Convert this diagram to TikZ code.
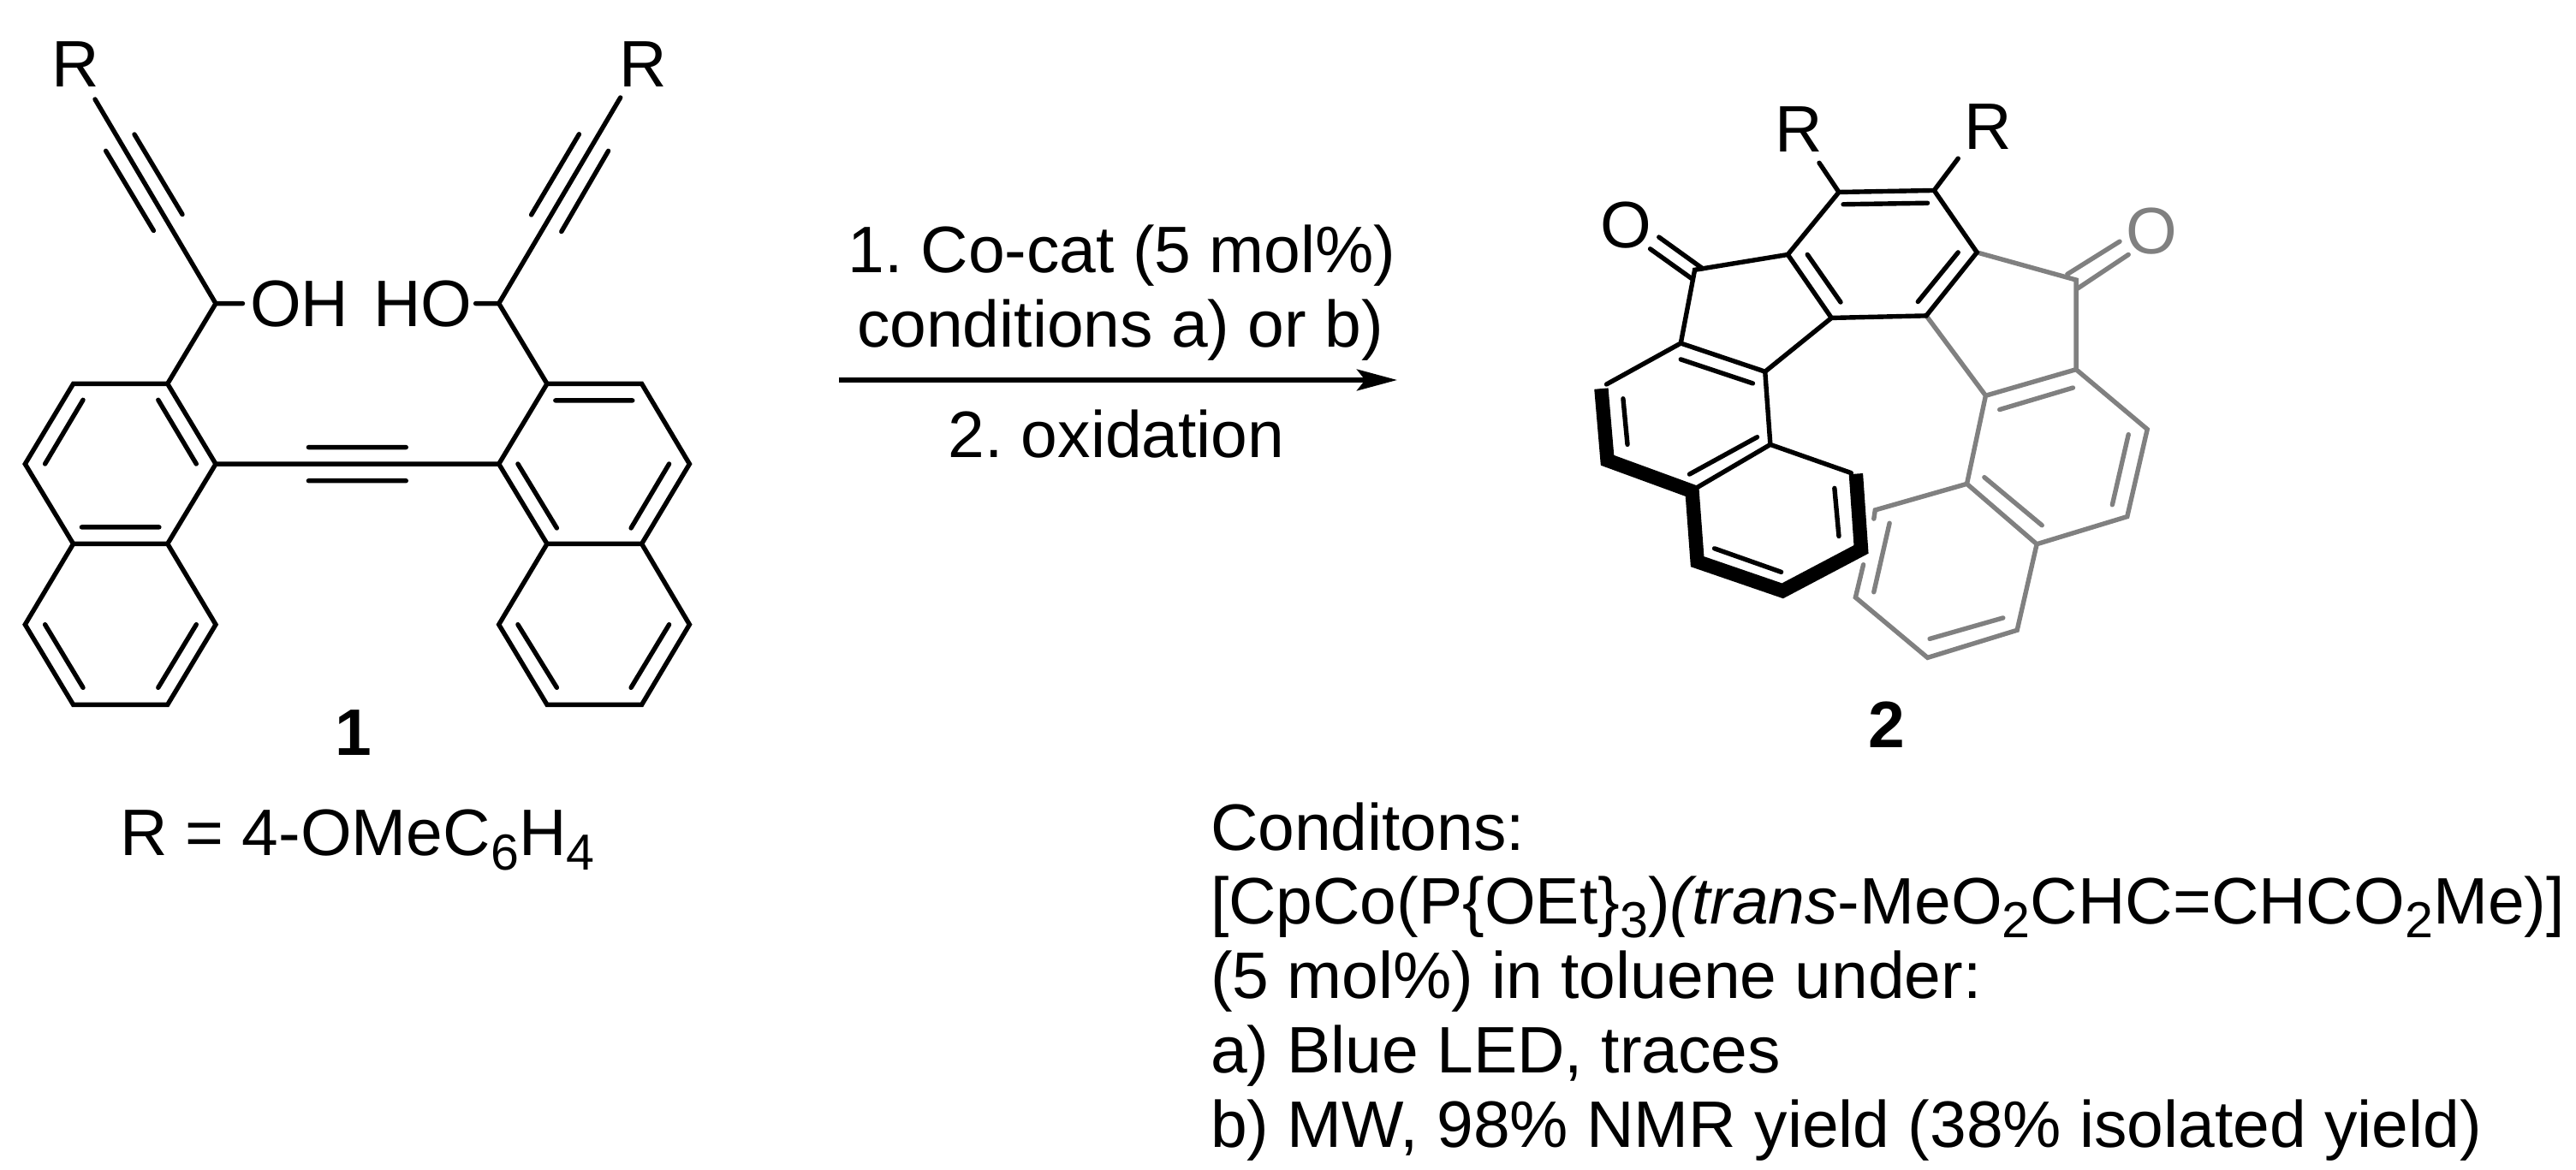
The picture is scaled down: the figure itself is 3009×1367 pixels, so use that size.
\documentclass[tikz,border=0pt]{standalone}
\usepackage{fontspec}
\setmainfont{Liberation Sans}
\usetikzlibrary{arrows.meta}
\newcommand\chemsub[1]{\raisebox{-4.2pt}{\fontsize{14.8pt}{15pt}\selectfont #1}}
\definecolor{gray53}{HTML}{808080}
\tikzset{
  bond/.style={line width=1.35pt,line cap=round,line join=miter,black},
  grayb/.style={bond,draw=gray53},
  heavy/.style={line width=4.1pt,line cap=butt,line join=miter,miter limit=10,black},
  txt/.style={anchor=base west,inner sep=0pt,outer sep=0pt,font=\fontsize{19.2pt}{22pt}\selectfont\frenchspacing},
  midtxt/.style={txt,anchor=base},
  boldtxt/.style={midtxt,font=\fontsize{19.2pt}{22pt}\selectfont\bfseries},
  rxn/.style={line width=1.5pt,-{Stealth[length=11.75pt,width=6.2pt,inset=2.4pt]}}
}
\begin{document}
\begin{tikzpicture}[x=0.25pt,y=-0.25pt]
\useasboundingbox (0,0) rectangle (3009,1367);
% ---------- compound 1 ----------
\foreach \n/\x/\y in {a1/85.6/448.4,a2/195.7/448.4,a3/252/542.1,a4/195.7/635.4,a5/85.6/635.4,a6/29.3/542.1,
  a7/29.3/729.7,a8/85.6/823.4,a9/195.7/823.4,a10/252/729.7,
  b1/639/448.4,b2/749.6/448.4,b3/805.4/542.1,b4/749.6/635.4,b5/639/635.4,b6/582.7/542.1,
  b7/582.7/729.7,b8/639/823.4,b9/749.6/823.4,b10/805.4/729.7,
  ca/252/354.6,cb/582.7/354.6,ra/111/116,rb/724.7/114,oha/283.5/354.6,hob/555.6/354.6}
  {\coordinate (\n) at (\x,\y);}
\draw[bond] (a1)--(a2)--(a3)--(a4)--(a5)--(a6)--cycle (a5)--(a7)--(a8)--(a9)--(a10)--(a4);
\draw[bond] (b1)--(b2)--(b3)--(b4)--(b5)--(b6)--cycle (b5)--(b7)--(b8)--(b9)--(b10)--(b4);
\draw[bond] (a2)--(ca)--(ra) (ca)--(oha) (b1)--(cb)--(rb) (cb)--(hob) (a3)--(b6);
% triple-bond side lines
\draw[bond] (157,157)--(213,250.5) (123.6,176.3)--(179.4,269.5)
  (676.4,156.8)--(620.6,251) (710.6,176.3)--(655.8,270.6)
  (360.4,522.6)--(474.3,522.6) (360.4,561.7)--(474.3,561.7);
% inner double-bond lines
\draw[bond] (97,467.3)--(52.6,542) (184.8,467.3)--(229.3,542) (95.4,615.9)--(185.9,615.9)
  (52.6,729.7)--(97,803.4) (229.3,729.7)--(184.8,803.4)
  (648.8,467.9)--(738.8,467.9) (604.9,542)--(650.4,617) (781.6,542)--(737.1,617)
  (604.9,729.7)--(650.4,803.4) (781.6,729.7)--(737.1,803.4);
\node[txt] (R1) at (60,101.5) {R};
\node[txt] (R2) at (723,101.5) {R};
\node[txt] (OH) at (292,382) {OH};
\node[txt] (HO) at (436,382) {HO};
\node[boldtxt] (L1) at (413,883) {1};
\node[txt] (Rdef) at (140,1000) {R = 4-OMeC\chemsub{6}H\chemsub{4}};
% ---------- arrow ----------
\coordinate (arrS) at (980,444);
\coordinate (arrE) at (1632,444);
\draw[rxn] (arrS)--(arrE);
\node[midtxt] (c1) at (1310.5,319) {1. Co-cat (5 mol\%)};
\node[midtxt] (c2) at (1308.5,405.7) {conditions a) or b)};
\node[midtxt] (c3) at (1304,535) {2. oxidation};
% ---------- compound 2 (zoom frame) ----------
\begin{scope}[shift={(1800,50)},scale=0.5102]
\foreach \n/\x/\y in {a/565/485,b/682/342,c/900/338,d/998/480,e/882/625,f/665/630,
  cl/352/520,g/513/753,h/525/920,i/320/688,j/358/1018,lt/150/782,
  pt/710/985,k/152/956,jj/346/1027,l/138/792,m/358/1188,n/553/1255,o/733/1160,p/721/987,
  cr/1225/543,r/1225/748,s/1018/808,t/1388/885,u/1342/1085,v/1135/1148,w/975/1010,
  x/765/1070,x2/762/1090,x3/738/1195,y/720/1270,z/885/1408,aa/1090/1345}
  {\coordinate (\n) at (\x,\y);}
% grey half first
\draw[grayb] (d)--(cr)--(r)--(t)--(u)--(v)--(w)--(x)--(x2) (e)--(s)--(r) (s)--(w)
  (x3)--(y)--(z)--(aa)--(v);
\draw[grayb] (1205,530)--(1325,455) (1228,563)--(1345,485)
  (1050,840)--(1218,790) (1345,897)--(1308,1058) (1147,1105)--(1015,995)
  (798,1100)--(762,1258) (890,1365)--(1058,1317);
% black half
\draw[bond] (a)--(b)--(c)--(d)--(e)--(f)--cycle;
\draw[bond] (a)--(cl)--(i)--(g)--(h)--(j) (f)--(g) (h)--(pt) (i)--(lt);
\draw[bond] (270,445)--(370,517) (250,472)--(345,540)
  (692,370)--(885,367) (610,485)--(686,594) (955,480)--(863,593)
  (320,725)--(485,780) (340,988)--(495,903) (188,815)--(198,920)
  (397,1158)--(550,1212) (672,1020)--(682,1130)
  (b)--(637,275) (c)--(955,265);
\draw[heavy] (l)--(k)--(jj)--(m)--(n)--(o)--(p);
\end{scope}
\node[txt] (R3) at (2073,177.5) {R};
\node[txt] (R4) at (2294,175) {R};
\node[midtxt] (O1) at (1899.5,290) {O};
\node[midtxt,text=gray53] (O2) at (2513,297) {O};
\node[boldtxt] (L2) at (2204,874) {2};
% ---------- conditions ----------
\node[txt] (t1) at (1414,993) {Conditons:};
\node[txt] (t2) at (1414,1079) {[CpCo(P\{OEt\}\chemsub{3})\textit{(trans}-MeO\chemsub{2}CHC=CHCO\chemsub{2}Me)]};
\node[txt] (t3) at (1414,1166) {(5 mol\%) in toluene under:};
\node[txt] (t4) at (1414,1253) {a) Blue LED, traces};
\node[txt] (t5) at (1414,1340) {b) MW, 98\% NMR yield (38\% isolated yield)};
\end{tikzpicture}
\end{document}
